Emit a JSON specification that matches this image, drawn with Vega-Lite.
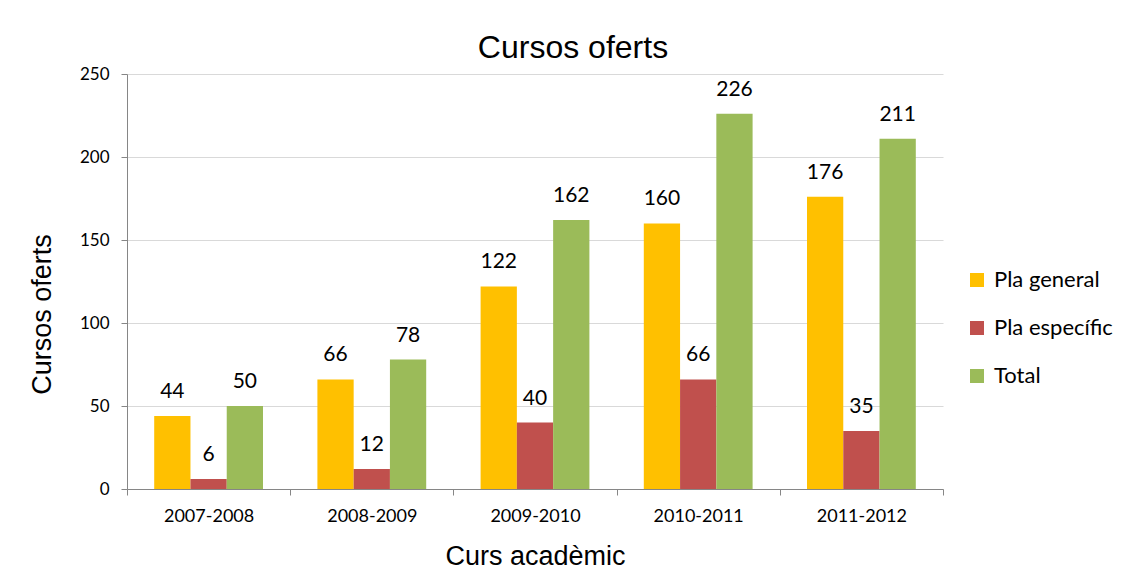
{
  "$schema": "https://vega.github.io/schema/vega-lite/v6.json",
  "width": 816,
  "height": 415,
  "autosize": {"type": "none"},
  "padding": {"left": 127, "top": 74, "right": 186, "bottom": 87},
  "background": "white",
  "title": {
    "text": "Cursos oferts",
    "font": "Liberation Sans",
    "fontSize": 32,
    "fontWeight": "normal",
    "color": "#000000",
    "anchor": "middle",
    "frame": "group",
    "dx": 38,
    "offset": 0
  },
  "data": {
    "values": [
      {"curs": "2007-2008", "serie": "Pla general", "valor": 44},
      {"curs": "2007-2008", "serie": "Pla específic", "valor": 6},
      {"curs": "2007-2008", "serie": "Total", "valor": 50},
      {"curs": "2008-2009", "serie": "Pla general", "valor": 66},
      {"curs": "2008-2009", "serie": "Pla específic", "valor": 12},
      {"curs": "2008-2009", "serie": "Total", "valor": 78},
      {"curs": "2009-2010", "serie": "Pla general", "valor": 122},
      {"curs": "2009-2010", "serie": "Pla específic", "valor": 40},
      {"curs": "2009-2010", "serie": "Total", "valor": 162},
      {"curs": "2010-2011", "serie": "Pla general", "valor": 160},
      {"curs": "2010-2011", "serie": "Pla específic", "valor": 66},
      {"curs": "2010-2011", "serie": "Total", "valor": 226},
      {"curs": "2011-2012", "serie": "Pla general", "valor": 176},
      {"curs": "2011-2012", "serie": "Pla específic", "valor": 35},
      {"curs": "2011-2012", "serie": "Total", "valor": 211}
    ]
  },
  "encoding": {
    "x": {
      "field": "curs",
      "type": "nominal",
      "title": "Curs acadèmic",
      "scale": {"paddingInner": 0, "paddingOuter": 0},
      "axis": {
        "labelAngle": 0,
        "tickBand": "extent",
        "domainColor": "#868686",
        "tickColor": "#868686",
        "tickSize": 6,
        "labelFont": "Lato",
        "labelFontSize": 18,
        "labelColor": "#000000",
        "labelPadding": 12,
        "titleFont": "Liberation Sans",
        "titleFontSize": 27,
        "titleFontWeight": "normal",
        "titleColor": "#000000",
        "titlePadding": 18
      }
    },
    "xOffset": {
      "field": "serie",
      "type": "nominal",
      "sort": ["Pla general", "Pla específic", "Total"],
      "scale": {"paddingInner": 0, "paddingOuter": 0.75}
    },
    "y": {
      "field": "valor",
      "type": "quantitative",
      "title": "Cursos oferts",
      "scale": {"domain": [0, 250], "nice": false},
      "axis": {
        "values": [0, 50, 100, 150, 200, 250],
        "grid": true,
        "gridColor": "#d9d9d9",
        "domainColor": "#868686",
        "tickColor": "#868686",
        "tickSize": 6,
        "labelFont": "Lato",
        "labelFontSize": 17,
        "labelColor": "#000000",
        "labelPadding": 12,
        "titleFont": "Liberation Sans",
        "titleFontSize": 27,
        "titleFontWeight": "normal",
        "titleColor": "#000000",
        "titleX": -71,
        "titleY": 240
      }
    }
  },
  "layer": [
    {
      "mark": {"type": "bar"},
      "encoding": {
        "color": {
          "field": "serie",
          "type": "nominal",
          "scale": {
            "domain": ["Pla general", "Pla específic", "Total"],
            "range": ["#FFC000", "#C0504D", "#9BBB59"]
          },
          "legend": {
            "title": null,
            "orient": "none",
            "legendX": 839,
            "legendY": 195,
            "symbolType": "square",
            "symbolSize": 196,
            "symbolStrokeWidth": 0,
            "labelFont": "Lato",
            "labelFontSize": 22,
            "labelColor": "#000000",
            "rowPadding": 26,
            "labelOffset": 6
          }
        }
      }
    },
    {
      "mark": {
        "type": "text",
        "baseline": "alphabetic",
        "dy": -18,
        "font": "Lato",
        "fontSize": 21,
        "color": "#000000"
      },
      "encoding": {
        "text": {"field": "valor", "type": "quantitative"}
      }
    }
  ],
  "config": {
    "view": {"stroke": null}
  }
}
